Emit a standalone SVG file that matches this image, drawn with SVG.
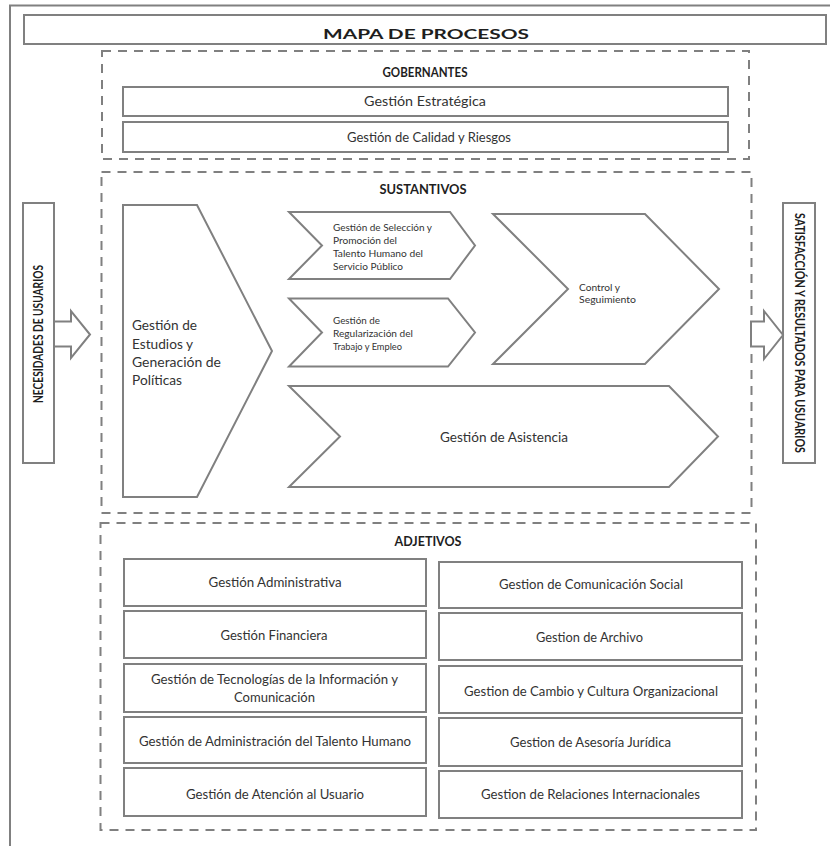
<svg xmlns="http://www.w3.org/2000/svg" width="830" height="846" viewBox="0 0 830 846">
  <style>
    .frame{fill:none;stroke:#808080;stroke-width:2}
    .box{fill:#fff;stroke:#808080;stroke-width:2}
    .dash{fill:none;stroke:#808080;stroke-width:2;stroke-dasharray:9 7}
    .shape{fill:#fff;stroke:#808080;stroke-width:2;stroke-linejoin:miter}
    .t{font-family:Lato,'Liberation Sans',sans-serif;font-size:13px;fill:#333;text-anchor:middle}
    .b{font-weight:bold;fill:#1e1e1e}
    .l{text-anchor:start}
    .s{font-size:10px}
  </style>
  <rect width="830" height="846" fill="#fff"/>

  <!-- page frame -->
  <path class="frame" d="M10,846 V5.5 H830"/>

  <!-- title bar -->
  <g id="title">
    <rect class="box" x="24" y="15" width="802" height="29" stroke-width="2.5"/>
    <text class="t b" x="426" y="38.5" font-size="23" textLength="206" lengthAdjust="spacingAndGlyphs">MAPA DE PROCESOS</text>
  </g>

  <!-- governing processes -->
  <g id="gobernantes">
    <rect class="dash" x="102" y="51" width="647" height="108"/>
    <text class="t b" x="425" y="76.5" textLength="85" lengthAdjust="spacingAndGlyphs">GOBERNANTES</text>
  </g>
  <g id="gestion-estrategica">
    <rect class="box" x="123" y="87" width="605" height="29"/>
    <text class="t" x="425" y="106" textLength="122" lengthAdjust="spacingAndGlyphs">Gestión Estratégica</text>
  </g>
  <g id="gestion-calidad">
    <rect class="box" x="123" y="122" width="605" height="30"/>
    <text class="t" x="429" y="141.5" textLength="164" lengthAdjust="spacingAndGlyphs">Gestión de Calidad y Riesgos</text>
  </g>

  <!-- core processes -->
  <g id="sustantivos">
    <rect class="dash" x="101.5" y="172" width="650" height="341"/>
    <text class="t b" x="423" y="194" textLength="87" lengthAdjust="spacingAndGlyphs">SUSTANTIVOS</text>
  </g>
  <g id="estudios-politicas">
    <polygon class="shape" points="123,205 197,205 272,351 197,497 123,497"/>
    <text class="t l" font-size="15.5" x="132"><tspan x="132" y="330" textLength="65" lengthAdjust="spacingAndGlyphs">Gestión de</tspan><tspan x="132" y="348.5" textLength="61" lengthAdjust="spacingAndGlyphs">Estudios y</tspan><tspan x="132" y="367" textLength="89" lengthAdjust="spacingAndGlyphs">Generación de</tspan><tspan x="132" y="385" textLength="50" lengthAdjust="spacingAndGlyphs">Políticas</tspan></text>
  </g>
  <g id="seleccion-promocion">
    <polygon class="shape" points="289,212 450,212 475,245.5 450,279 289,279 322,245.5"/>
    <text class="t l s" x="333"><tspan x="333" y="231" textLength="99" lengthAdjust="spacingAndGlyphs">Gestión de Selección y</tspan><tspan x="333" y="244" textLength="64" lengthAdjust="spacingAndGlyphs">Promoción del</tspan><tspan x="333" y="257" textLength="90" lengthAdjust="spacingAndGlyphs">Talento Humano del</tspan><tspan x="333" y="270" textLength="70" lengthAdjust="spacingAndGlyphs">Servicio Público</tspan></text>
  </g>
  <g id="regularizacion">
    <polygon class="shape" points="289,298.5 448,298.5 475,332.5 448,366.5 289,366.5 322,332.5"/>
    <text class="t l s" x="333"><tspan x="333" y="324" textLength="47" lengthAdjust="spacingAndGlyphs">Gestión de</tspan><tspan x="333" y="337" textLength="80" lengthAdjust="spacingAndGlyphs">Regularización del</tspan><tspan x="333" y="350" textLength="69" lengthAdjust="spacingAndGlyphs">Trabajo y Empleo</tspan></text>
  </g>
  <g id="control-seguimiento">
    <polygon class="shape" points="493,214 645,214 719,289 645,364 493,364 568,289"/>
    <text class="t l s" x="579"><tspan x="579" y="290.5" textLength="41" lengthAdjust="spacingAndGlyphs">Control y</tspan><tspan x="579" y="302.5" textLength="57" lengthAdjust="spacingAndGlyphs">Seguimiento</tspan></text>
  </g>
  <g id="asistencia">
    <polygon class="shape" points="289,386 669,386 718,436.5 669,487 289,487 340,436.5"/>
    <text class="t" x="504" y="442" font-size="14" textLength="128" lengthAdjust="spacingAndGlyphs">Gestión de Asistencia</text>
  </g>

  <!-- inputs and outputs -->
  <g id="necesidades">
    <rect class="box" x="23" y="203" width="31" height="260"/>
    <text class="t b" font-size="12" transform="translate(38.5,334) rotate(-90)" x="0" y="4" textLength="138" lengthAdjust="spacingAndGlyphs">NECESIDADES DE USUARIOS</text>
  </g>
  <g id="satisfaccion">
    <rect class="box" x="783" y="203" width="32" height="260"/>
    <text class="t b" font-size="12" transform="translate(799,333) rotate(90)" x="0" y="4" textLength="240" lengthAdjust="spacingAndGlyphs">SATISFACCIÓN Y RESULTADOS PARA USUARIOS</text>
  </g>

  <!-- flow arrows -->
  <g id="connectors">
    <polygon class="shape" points="54,321.5 71,321.5 71,311 90,334.5 71,358 71,346.5 54,346.5"/>
    <polygon class="shape" points="751,321.5 764,321.5 764,311 783,335 764,359 764,346.5 751,346.5"/>
  </g>

  <!-- support processes -->
  <g id="adjetivos">
    <rect class="dash" x="100.5" y="523" width="655.5" height="307"/>
    <text class="t b" x="428" y="546" textLength="67" lengthAdjust="spacingAndGlyphs">ADJETIVOS</text>
  </g>
  <g id="gestion-administrativa">
    <rect class="box" x="124" y="559" width="302" height="47"/>
    <text class="t" x="275" y="587" textLength="133" lengthAdjust="spacingAndGlyphs">Gestión Administrativa</text>
  </g>
  <g id="gestion-financiera">
    <rect class="box" x="124" y="611" width="302" height="47"/>
    <text class="t" x="274" y="639.5" textLength="107" lengthAdjust="spacingAndGlyphs">Gestión Financiera</text>
  </g>
  <g id="gestion-tic">
    <rect class="box" x="124" y="664" width="302" height="48"/>
    <text class="t" x="274.5"><tspan x="274.5" y="684" textLength="247" lengthAdjust="spacingAndGlyphs">Gestión de Tecnologías de la Información y</tspan><tspan x="274.5" y="702" textLength="81" lengthAdjust="spacingAndGlyphs">Comunicación</tspan></text>
  </g>
  <g id="gestion-talento-humano">
    <rect class="box" x="124" y="717" width="302" height="46"/>
    <text class="t" x="275" y="745.5" textLength="272" lengthAdjust="spacingAndGlyphs">Gestión de Administración del Talento Humano</text>
  </g>
  <g id="gestion-atencion-usuario">
    <rect class="box" x="124" y="768" width="302" height="48"/>
    <text class="t" x="275" y="798.5" textLength="178" lengthAdjust="spacingAndGlyphs">Gestión de Atención al Usuario</text>
  </g>
  <g id="gestion-comunicacion-social">
    <rect class="box" x="439" y="562" width="303" height="46"/>
    <text class="t" x="591" y="589" textLength="184" lengthAdjust="spacingAndGlyphs">Gestion de Comunicación Social</text>
  </g>
  <g id="gestion-archivo">
    <rect class="box" x="439" y="613" width="303" height="47"/>
    <text class="t" x="589.5" y="641.5" textLength="107" lengthAdjust="spacingAndGlyphs">Gestion de Archivo</text>
  </g>
  <g id="gestion-cambio-cultura">
    <rect class="box" x="439" y="666" width="303" height="47"/>
    <text class="t" x="591" y="696" textLength="254" lengthAdjust="spacingAndGlyphs">Gestion de Cambio y Cultura Organizacional</text>
  </g>
  <g id="gestion-asesoria-juridica">
    <rect class="box" x="439" y="718" width="303" height="48"/>
    <text class="t" x="590.5" y="747" textLength="161" lengthAdjust="spacingAndGlyphs">Gestion de Asesoría Jurídica</text>
  </g>
  <g id="gestion-relaciones-internacionales">
    <rect class="box" x="439" y="771" width="303" height="47"/>
    <text class="t" x="590.5" y="799" textLength="219" lengthAdjust="spacingAndGlyphs">Gestion de Relaciones Internacionales</text>
  </g>
</svg>
